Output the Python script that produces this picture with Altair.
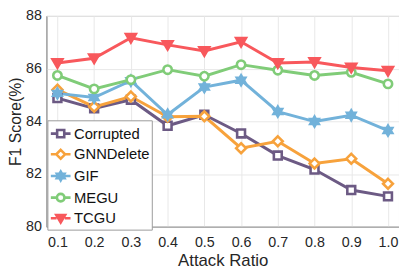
import altair as alt
import pandas as pd

ratios = [0.1, 0.2, 0.3, 0.4, 0.5, 0.6, 0.7, 0.8, 0.9, 1.0]
series_names = ["Corrupted", "GNNDelete", "GIF", "MEGU", "TCGU"]
corrupted = [84.88, 84.49, 84.82, 83.83, 84.25, 83.54, 82.70, 82.17, 81.39, 81.15]
gnndelete = [85.20, 84.55, 84.94, 84.17, 84.19, 82.98, 83.24, 82.40, 82.58, 81.63]
gif = [85.06, 84.90, 85.54, 84.25, 85.30, 85.56, 84.37, 83.99, 84.23, 83.65]
megu = [85.74, 85.23, 85.58, 85.96, 85.71, 86.15, 85.94, 85.74, 85.86, 85.42]
tcgu = [86.21, 86.39, 87.17, 86.90, 86.67, 87.02, 86.21, 86.25, 86.04, 85.92]

colors = ["#6c5a84", "#f7a23c", "#72b2da", "#80cc78", "#f8585c"]
fills = ["#ffffff", "#ffffff", "#72b2da", "#ffffff", "#f8585c"]


def scale_path(pts, k):
    return "M" + "L".join(f"{x*k:.3f},{y*k:.3f}" for x, y in pts) + "Z"


square = [(-0.8, -0.8), (0.8, -0.8), (0.8, 0.8), (-0.8, 0.8)]
diamond = [(0, -1), (1, 0), (0, 1), (-1, 0)]
star = [(0, -1), (-0.289, -0.5), (-0.866, -0.5), (-0.577, 0), (-0.866, 0.5), (-0.289, 0.5),
        (0, 1), (0.289, 0.5), (0.866, 0.5), (0.577, 0), (0.866, -0.5), (0.289, -0.5)]
tri = [(-1, -0.75), (1, -0.75), (0, 0.95)]


def circle_path(r):
    return f"M{-r:.3f},0A{r:.3f},{r:.3f} 0 1,0 {r:.3f},0A{r:.3f},{r:.3f} 0 1,0 {-r:.3f},0Z"


chart_shapes = [scale_path(square, 1), scale_path(diamond, 1), scale_path(star, 1),
                circle_path(0.85), scale_path(tri, 1)]
k = 0.45
legend_shapes = [scale_path(square, k), scale_path(diamond, k), scale_path(star, k),
                 circle_path(0.85 * k), scale_path(tri, k)]
legend_shapes = ["M-1,0H-0.42M0.42,0H1" + p for p in legend_shapes]

rows = []
for name, vals in zip(series_names, [corrupted, gnndelete, gif, megu, tcgu]):
    for r, v in zip(ratios, vals):
        rows.append({"ratio": r, "score": v, "series": name})
df = pd.DataFrame(rows)

font = "Liberation Sans"

x = alt.X("ratio:Q", scale=alt.Scale(domain=[0.07, 1.03], nice=False, zero=False),
          axis=alt.Axis(values=ratios, format=".1f", title="Attack Ratio", labelFontSize=14.5,
                        titleFontSize=17, titleFontWeight="normal", labelColor="#262626",
                        titleColor="#262626", grid=True, gridColor="#e8e8e8", ticks=False,
                        domainColor="#9a9a9a", labelPadding=9, titlePadding=4, labelFont=font,
                        titleFont=font, labelFlush=False))
y = alt.Y("score:Q", scale=alt.Scale(domain=[80, 88], nice=False, zero=False),
          axis=alt.Axis(values=[80, 82, 84, 86, 88], title="F1 Score(%)", labelFontSize=14.5,
                        titleFontSize=16, titleFontWeight="normal", labelColor="#262626",
                        titleColor="#262626", grid=True, gridColor="#e8e8e8", ticks=False,
                        domainColor="#9a9a9a", labelPadding=5, titlePadding=2, labelFont=font,
                        titleFont=font, labelFlush=False))

lines = alt.Chart(df).mark_line(strokeWidth=3).encode(
    x=x, y=y,
    color=alt.Color("series:N", scale=alt.Scale(domain=series_names, range=colors), legend=None),
)

points = alt.Chart(df).mark_point(filled=False, strokeWidth=2.6, size=100, opacity=1).encode(
    x=x, y=y,
    color=alt.Color("series:N", scale=alt.Scale(domain=series_names, range=colors), legend=None),
    shape=alt.Shape("series:N", scale=alt.Scale(domain=series_names, range=chart_shapes),
                    legend=None),
    fill=alt.Fill("series:N", scale=alt.Scale(domain=series_names, range=fills), legend=None),
)

leg = alt.Legend(title=None, orient="none", legendX=1, legendY=106,
                 labelFontSize=15, labelFont=font, labelColor="#111111",
                 symbolSize=400, symbolStrokeWidth=2.6, symbolOpacity=1,
                 rowPadding=0, labelOffset=2, padding=2,
                 strokeColor="#9a9a9a", fillColor="white")

legend_layer = alt.Chart(df).transform_filter("datum.ratio < 0").mark_point(
    filled=False, strokeWidth=2.6, opacity=1).encode(
    x=x, y=y,
    color=alt.Color("series:N", scale=alt.Scale(domain=series_names, range=colors), legend=leg),
    shape=alt.Shape("series:N", scale=alt.Scale(domain=series_names, range=legend_shapes), legend=leg),
    fill=alt.Fill("series:N", scale=alt.Scale(domain=series_names, range=fills), legend=leg),
)

chart = alt.layer(lines, points, legend_layer).resolve_scale(
    color="independent", shape="independent", fill="independent"
).properties(
    width=358, height=214,
    autosize=alt.AutoSizeParams(type="none"),
    padding={"left": 39, "top": 6, "right": 0, "bottom": 46},
).configure_view(stroke="#9a9a9a", strokeWidth=1)

chart.save("out.html", embed_options={"renderer": "svg", "actions": False})
